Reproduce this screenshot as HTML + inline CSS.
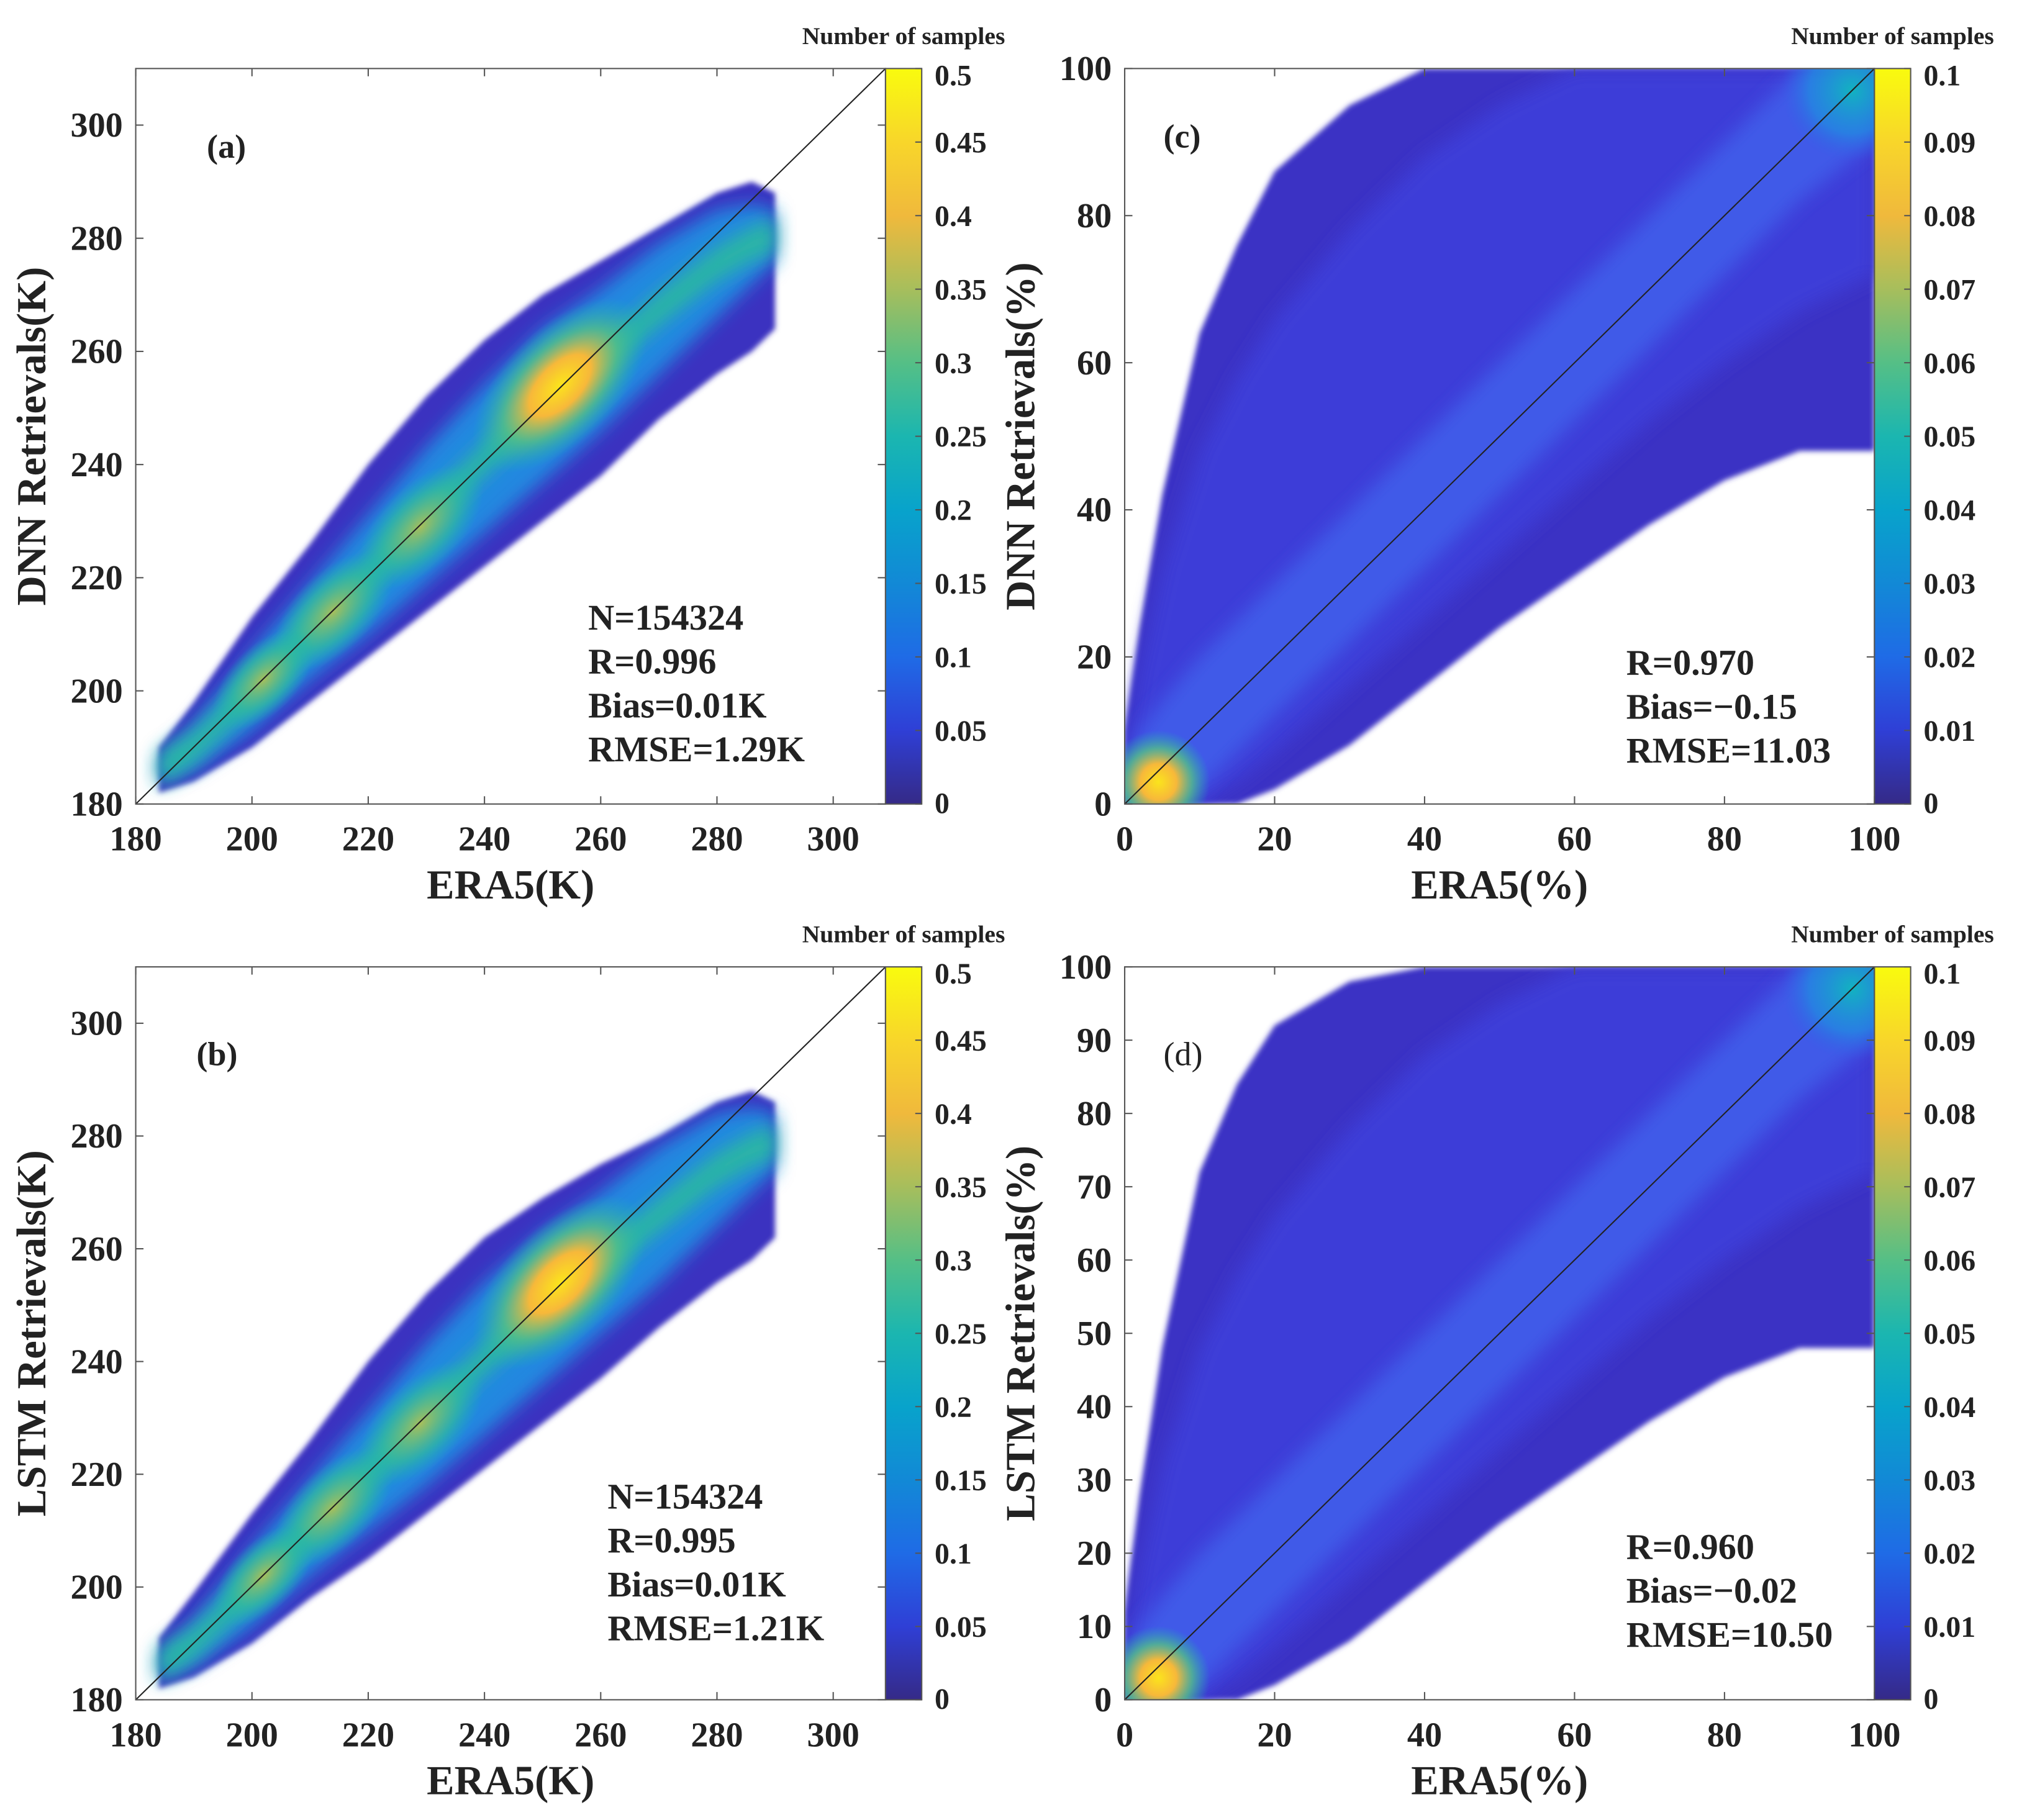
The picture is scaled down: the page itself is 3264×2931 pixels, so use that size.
<!DOCTYPE html>
<html><head><meta charset="utf-8">
<style>
html,body{margin:0;padding:0;background:#fff;}
svg{display:block;}
text{font-family:"Liberation Serif",serif;fill:#222;}
</style></head>
<body>
<svg id="fig" width="3264" height="2931" viewBox="0 0 1568 1408" xmlns="http://www.w3.org/2000/svg">
<defs>
<linearGradient id="parula" x1="0" y1="1" x2="0" y2="0">
<stop offset="0" stop-color="#352a87"/><stop offset="0.1" stop-color="#2f3fd6"/>
<stop offset="0.2" stop-color="#1f6be6"/><stop offset="0.3" stop-color="#1289d6"/>
<stop offset="0.4" stop-color="#08a3cb"/><stop offset="0.5" stop-color="#1bb6b0"/>
<stop offset="0.6" stop-color="#55bf86"/><stop offset="0.7" stop-color="#a7be5c"/>
<stop offset="0.8" stop-color="#f0b93c"/><stop offset="0.9" stop-color="#f8d62a"/>
<stop offset="1" stop-color="#f9fb0e"/></linearGradient>
<radialGradient id="hot"><stop offset="0" stop-color="#fbe41c"/><stop offset="0.35" stop-color="#f7b83a"/><stop offset="0.65" stop-color="#55bf86" stop-opacity="0.8"/><stop offset="1" stop-color="#1bb6b0" stop-opacity="0"/></radialGradient>
<radialGradient id="warm"><stop offset="0" stop-color="#a7be5c"/><stop offset="0.6" stop-color="#33bb9c" stop-opacity="0.7"/><stop offset="1" stop-color="#1bb6b0" stop-opacity="0"/></radialGradient>
<radialGradient id="cyan"><stop offset="0" stop-color="#12b2c0"/><stop offset="0.6" stop-color="#1f8ee0" stop-opacity="0.7"/><stop offset="1" stop-color="#2f5fe6" stop-opacity="0"/></radialGradient>
<filter id="b1" x="-20%" y="-20%" width="140%" height="140%"><feGaussianBlur stdDeviation="2"/></filter>
<filter id="b6" x="-20%" y="-20%" width="140%" height="140%"><feGaussianBlur stdDeviation="7"/></filter>
</defs>
</svg>
<script>
// ---- data arrays ----
const tempTicks = [180,200,220,240,260,280,300];
const pctTicksC = [0,20,40,60,80,100];
const pctTicksD = [0,10,20,30,40,50,60,70,80,90,100];
const pctTicksX = [0,20,40,60,80,100];
const cbTicksT = [0,0.05,0.1,0.15,0.2,0.25,0.3,0.35,0.4,0.45,0.5];
const cbTicksP = [0,0.01,0.02,0.03,0.04,0.05,0.06,0.07,0.08,0.09,0.1];

const envAx = [184,190,200,210,220,230,240,250,260,270,280,286,290];
const envAup = [190,198,213,226,240,252,262,270,276,282,288,290,288];
const envAlo = [182,184,190,198,206,214,222,230,238,248,256,260,264];
const coreAup = [188,194,207,219,231,243,254,264,271,279,285,286,285];
const coreAlo = [184,186,193,202,210,219,228,237,246,256,266,272,276];
const envBx = [184,190,200,210,220,230,240,250,260,270,280,286,290];
const envBup = [191,199,213,226,240,252,262,269,275,280,286,288,286];
const envBlo = [182,184,190,198,205,213,221,229,237,246,254,258,262];
const coreBup = [188,194,207,219,231,243,254,263,270,278,284,285,284];
const coreBlo = [184,186,193,202,210,218,227,236,245,254,264,270,274];
const hotAx=[253,229,214,202]; const hotAy=[254,229,214,202]; const hotAv=[1,0.6,0.55,0.4];
const hotBx=[253,229,214,202]; const hotBy=[254,229,214,202]; const hotBv=[1,0.6,0.55,0.4];

const envCx = [0,2,5,10,15,20,30,40,50,60,70,80,90,100];
const envCup = [10,24,42,64,76,86,95,100,100,100,100,100,100,100];
const envClo = [0,0,0,0,0,2,8,16,24,31,38,44,48,48];
const coreCup = [6,18,32,48,58,66,78,88,95,100,100,100,100,100];
const coreClo = [0,0,0,0,3,7,16,25,34,43,52,60,67,72];
const innerCup = [5,10,14,20,25,30,40,50,60,70,80,90,100,100];
const innerClo = [0,0,0,2,7,12,22,32,42,52,62,72,82,90];
const envDx = [0,2,5,10,15,20,30,40,50,60,70,80,90,100];
const envDup = [12,28,48,72,84,92,98,100,100,100,100,100,100,100];
const envDlo = [0,0,0,0,0,2,8,16,24,31,38,44,48,48];
const coreDup = [6,18,32,48,58,66,78,88,95,100,100,100,100,100];
const coreDlo = [0,0,0,0,3,7,16,25,34,43,52,60,67,72];
const innerDup = [5,10,14,20,25,30,40,50,60,70,80,90,100,100];
const innerDlo = [0,0,0,2,7,12,22,32,42,52,62,72,82,90];

const NS="http://www.w3.org/2000/svg";
const svg=document.getElementById('fig');
function el(tag,attrs,parent){const e=document.createElementNS(NS,tag);for(const k in attrs)e.setAttribute(k,attrs[k]);(parent||svg).appendChild(e);return e;}
function txt(s,attrs,parent){const e=el('text',attrs,parent);e.textContent=s;return e;}

function panel(p){
  const g=el('g',{});
  
  
  const sx=v=>p.x0+(v-p.xmin)/(p.xmax-p.xmin)*(p.x1-p.x0);
  const sy=v=>p.y1-(v-p.ymin)/(p.ymax-p.ymin)*(p.y1-p.y0);
  const clip=el('clipPath',{id:'clip'+p.id},g);
  el('rect',{x:p.x0,y:p.y0,width:p.x1-p.x0,height:p.y1-p.y0},clip);
  const dg=el('g',{'clip-path':'url(#clip'+p.id+')'},g);
  function poly(xs,up,lo,fill,filt,name){
    let pts=[];
    for(let i=0;i<xs.length;i++)pts.push(sx(xs[i])+','+sy(up[i]));
    for(let i=xs.length-1;i>=0;i--)pts.push(sx(xs[i])+','+sy(lo[i]));
    const e=el('polygon',{points:pts.join(' '),fill:fill,filter:filt},dg);
    
    
  }
  poly(p.ex,p.eu,p.el,p.outerColor,'url(#b1)','scatter-envelope');
  poly(p.ex,p.cu,p.cl,p.midColor,'url(#b6)','density-band');
  if(p.iu){
    poly(p.ex,p.iu,p.il,p.inner,'url(#b6)','density-core');
  } else if(p.inner){
    const iu=p.ex.map((x,i)=>(p.cu[i]*0.5+p.cl[i]*0.5+3)), il=p.ex.map((x,i)=>(p.cu[i]*0.5+p.cl[i]*0.5-3));
    poly(p.ex,iu,il,p.inner,'url(#b6)','density-core');
  }
  if(p.hx){
    for(let i=0;i<p.hx.length;i++){
      const cx=sx(p.hx[i]),cy=sy(p.hy[i]);
      const r=p.hv[i];
      const e=el('ellipse',{cx:cx,cy:cy,rx:60*r+25,ry:30*r+14,fill:r>0.9?'url(#hot)':'url(#warm)',transform:'rotate(-45 '+cx+' '+cy+')'},dg);
      
      
    }
  }
  if(p.pct){
    const a=el('ellipse',{cx:sx(4.5),cy:sy(3),rx:40,ry:40,fill:'url(#hot)'},dg);
    
    
    const b=el('ellipse',{cx:sx(97),cy:sy(97),rx:55,ry:55,fill:'url(#cyan)'},dg);
    
    
  }
  const d=el('line',{x1:sx(p.xmin),y1:sy(p.ymin),x2:p.x1,y2:p.y0,stroke:'#222','stroke-width':1},g);
  
  
  const fr=el('rect',{x:p.x0,y:p.y0,width:p.x1-p.x0,height:p.y1-p.y0,fill:'none',stroke:'#555','stroke-width':1},g);
  
  
  p.xt.forEach(v=>{const x=sx(v);
    el('line',{x1:x,y1:p.y1,x2:x,y2:p.y1-6,stroke:'#555'},g);el('line',{x1:x,y1:p.y0,x2:x,y2:p.y0+6,stroke:'#555'},g);
    const t=txt(String(v),{x:x,y:p.y1+36,'text-anchor':'middle','font-size':27,'font-weight':'bold'},g);
    
    });
  p.yt.forEach(v=>{const y=sy(v);
    el('line',{x1:p.x0,y1:y,x2:p.x0+6,y2:y,stroke:'#555'},g);el('line',{x1:p.x1,y1:y,x2:p.x1-6,y2:y,stroke:'#555'},g);
    const t=txt(String(v),{x:p.x0-10,y:y+9,'text-anchor':'end','font-size':27,'font-weight':'bold'},g);
    
    });
  const xt=txt(p.xlabel,{x:(p.x0+p.x1)/2,y:p.y1+73,'text-anchor':'middle','font-size':32,'font-weight':'bold'},g);
  
  
  const yx=p.x0-70, yy=(p.y0+p.y1)/2;
  const yt=txt(p.ylabel,{x:yx,y:yy,'text-anchor':'middle','font-size':32,'font-weight':'bold',transform:'rotate(-90 '+yx+' '+yy+')'},g);
  
  
  const pl=txt(p.label,{x:p.lx,y:p.ly,'font-size':26,'font-weight':p.labelBold?'bold':'normal'},g);
  
  
  p.stats.forEach((s,i)=>{const t=txt(s,{x:p.sx,y:p.sy+i*34,'font-size':28,'font-weight':'bold'},g);
    
    });
  const cbx=p.x1, cbw=28;
  const cb=el('rect',{x:cbx,y:p.y0,width:cbw,height:p.y1-p.y0,fill:'url(#parula)',stroke:'#555','stroke-width':1},g);
  
  
  const cmax=p.cb[p.cb.length-1];
  p.cb.forEach(v=>{const y=p.y1-(v/cmax)*(p.y1-p.y0);
    el('line',{x1:cbx+cbw,y1:y,x2:cbx+cbw-5,y2:y,stroke:'#555'},g);
    const t=txt(String(v),{x:cbx+cbw+10,y:y+(v===0?7:v===cmax?13:8),'font-size':23,'font-weight':'bold'},g);
    
    });
  const ct=txt('Number of samples',{x:cbx+cbw/2,y:p.y0-19,'text-anchor':'middle','font-size':19,'font-weight':'bold'},g);
  
  
}

panel({id:'a',name:'panel-a-dnn-temperature',x0:105,x1:685,y0:53,y1:622,xmin:180,xmax:309,ymin:180,ymax:310,
  xt:tempTicks,yt:tempTicks,ex:envAx,eu:envAup,el:envAlo,cu:coreAup,cl:coreAlo,outerColor:'#3a30c0',midColor:'#2388e0',inner:'#2ab5a5',
  hx:hotAx,hy:hotAy,hv:hotAv,xlabel:'ERA5(K)',ylabel:'DNN Retrievals(K)',label:'(a)',labelBold:true,lx:160,ly:122,
  stats:['N=154324','R=0.996','Bias=0.01K','RMSE=1.29K'],sx:455,sy:487,cb:cbTicksT});
panel({id:'b',name:'panel-b-lstm-temperature',x0:105,x1:685,y0:748,y1:1315,xmin:180,xmax:309,ymin:180,ymax:310,
  xt:tempTicks,yt:tempTicks,ex:envBx,eu:envBup,el:envBlo,cu:coreBup,cl:coreBlo,outerColor:'#3a30c0',midColor:'#2388e0',inner:'#2ab5a5',
  hx:hotBx,hy:hotBy,hv:hotBv,xlabel:'ERA5(K)',ylabel:'LSTM Retrievals(K)',label:'(b)',labelBold:true,lx:152,ly:824,
  stats:['N=154324','R=0.995','Bias=0.01K','RMSE=1.21K'],sx:470,sy:1167,cb:cbTicksT});
panel({id:'c',name:'panel-c-dnn-humidity',x0:870,x1:1450,y0:53,y1:622,xmin:0,xmax:100,ymin:0,ymax:100,pct:true,
  xt:pctTicksX,yt:pctTicksC,ex:envCx,eu:envCup,el:envClo,cu:coreCup,cl:coreClo,iu:innerCup,il:innerClo,outerColor:'#3a32c4',midColor:'#3c3dd8',inner:'#3f5ae8',
  xlabel:'ERA5(%)',ylabel:'DNN Retrievals(%)',label:'(c)',labelBold:true,lx:900,ly:114,
  stats:['R=0.970','Bias=\u22120.15','RMSE=11.03'],sx:1258,sy:522,cb:cbTicksP});
panel({id:'d',name:'panel-d-lstm-humidity',x0:870,x1:1450,y0:748,y1:1315,xmin:0,xmax:100,ymin:0,ymax:100,pct:true,
  xt:pctTicksX,yt:pctTicksD,ex:envDx,eu:envDup,el:envDlo,cu:coreDup,cl:coreDlo,iu:innerDup,il:innerDlo,outerColor:'#3a32c4',midColor:'#3c3dd8',inner:'#3f5ae8',
  xlabel:'ERA5(%)',ylabel:'LSTM Retrievals(%)',label:'(d)',labelBold:false,lx:900,ly:824,
  stats:['R=0.960','Bias=\u22120.02','RMSE=10.50'],sx:1258,sy:1206,cb:cbTicksP});
</script>
</body></html>
